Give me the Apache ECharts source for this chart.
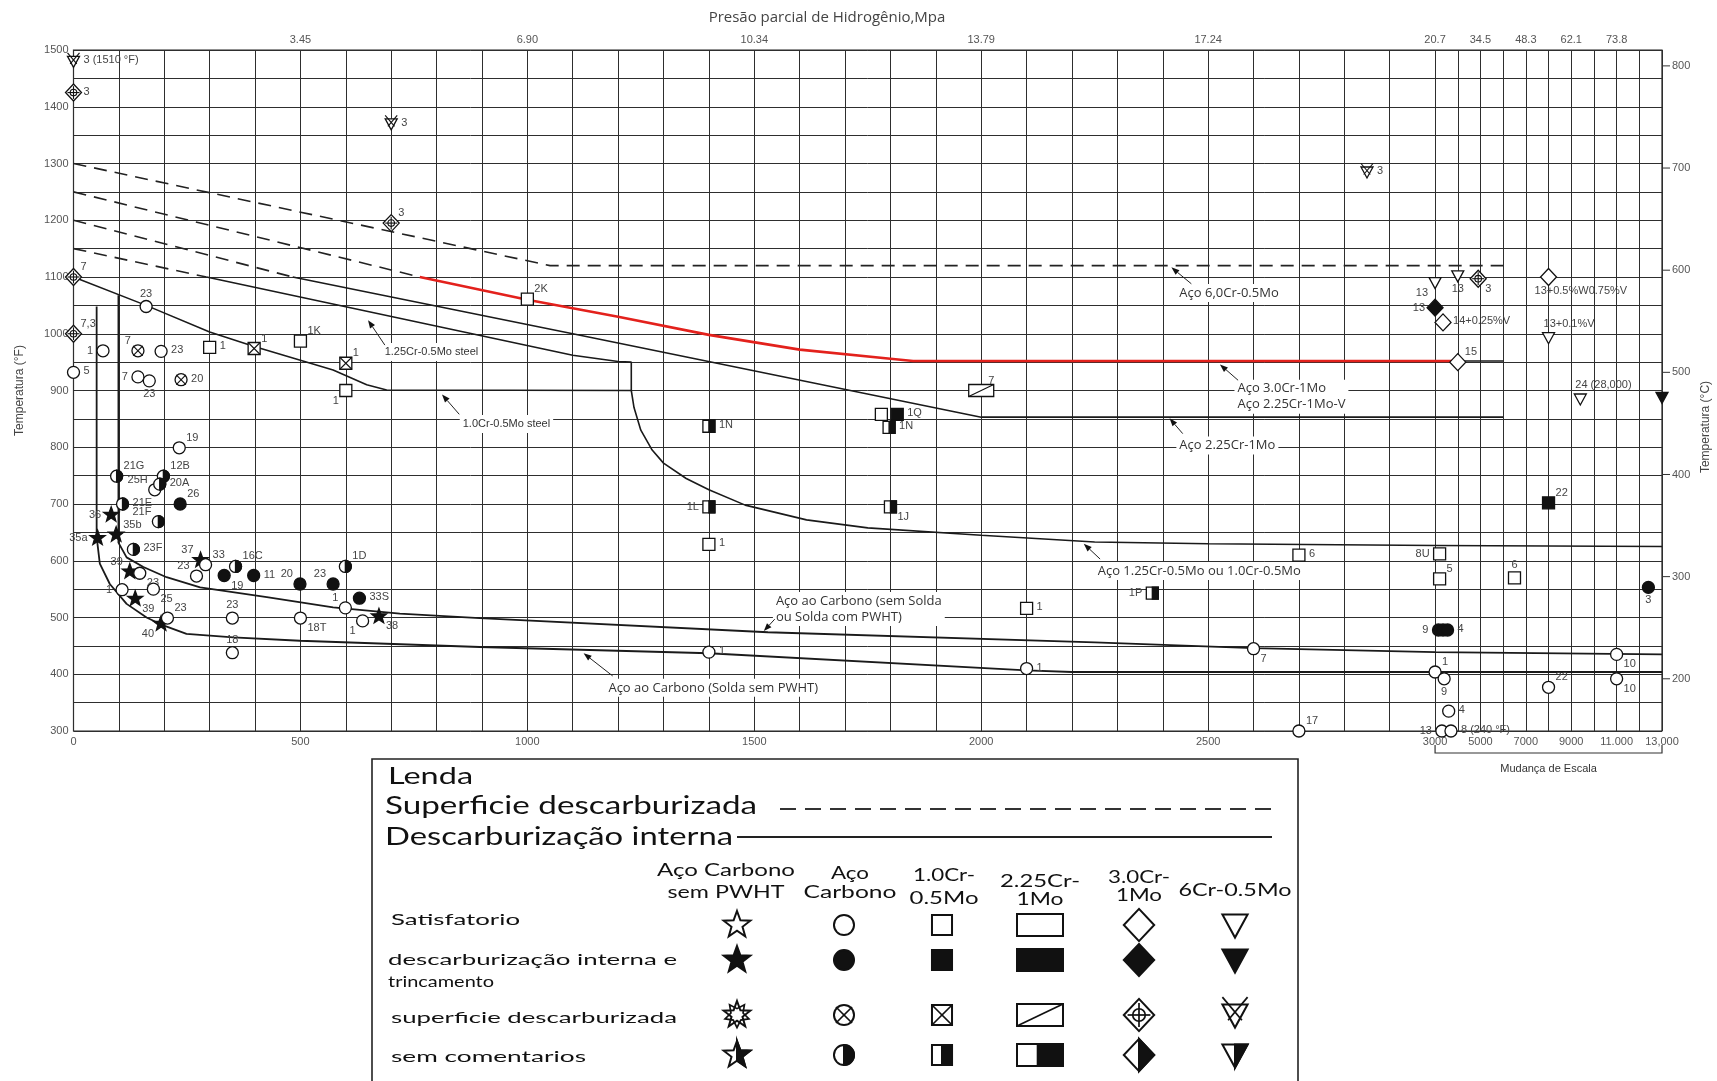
<!DOCTYPE html>
<html lang="pt">
<head>
<meta charset="utf-8">
<title>Curvas de Nelson</title>
<script src="https://cdn.jsdelivr.net/npm/echarts@6.0.0/dist/echarts.min.js"></script>
<style>
html,body{margin:0;padding:0;background:#fff;}
#chart{width:1717px;height:1081px;}
</style>
</head>
<body>
<div id="chart"></div>
<script>
// ---------- Axis ticks ----------
const bottomTickPsi  = [0, 500, 1000, 1500, 2000, 2500, 3000, 5000, 7000, 9000, 11000, 13000];
const bottomTickText = ['0', '500', '1000', '1500', '2000', '2500', '3000', '5000', '7000', '9000', '11.000', '13,000'];
const topTickPsi  = [500, 1000, 1500, 2000, 2500, 3000, 5000, 7000, 9000, 11000];
const topTickText = ['3.45', '6.90', '10.34', '13.79', '17.24', '20.7', '34.5', '48.3', '62.1', '73.8'];
const tempTicksF = [300, 400, 500, 600, 700, 800, 900, 1000, 1100, 1200, 1300, 1400, 1500];
const tempTicksC = [200, 300, 400, 500, 600, 700, 800];

// ---------- Curves: [pressure psia, temperature °F] ----------
const curve6Cr      = [[0, 1300], [1050, 1120], [6000, 1120]];
const dash3Cr       = [[0, 1250], [763, 1100]];
const dash225Cr     = [[0, 1200], [483, 1100]];
const dash125Cr     = [[0, 1150], [293, 1100]];
const curve3Cr      = [[763, 1100], [1000, 1060], [1200, 1030], [1400, 998], [1600, 972], [1800, 956], [1850, 952], [4000, 952]];
const curve3CrTail  = [[4000, 952], [6000, 952]];
const curve225Cr    = [[483, 1100], [1100, 1000], [2000, 853], [6000, 853]];
const curve125Cr    = [[293, 1100], [1100, 962], [1200, 951], [1229, 950], [1229, 900], [1235, 870], [1250, 830], [1275, 795],
                       [1300, 772], [1350, 745], [1400, 725], [1480, 698], [1615, 672], [1750, 658], [2000, 645],
                       [2250, 633], [2500, 630], [3000, 627], [13000, 625]];
const curve10Cr     = [[0, 1100], [160, 1050], [300, 1003], [400, 977], [572, 936], [646, 910], [690, 901], [1229, 900]];
const curveCarbonPwht = [[99, 1068], [99, 632], [117, 606], [154, 589], [205, 571], [279, 553], [426, 536], [572, 518],
                         [719, 507], [895, 499], [1530, 474], [2250, 456], [2600, 446], [3000, 439], [13000, 435]];
const curveCarbonWeld = [[51, 1048], [51, 642], [58, 595], [80, 559], [117, 524], [161, 500], [198, 486], [249, 471],
                         [352, 465], [499, 459], [895, 448], [1400, 437], [2100, 407], [2200, 404], [13000, 404]];

// ---------- Service experience: [psia, °F, condition, reference] ----------
// condition: ok = satisfatorio, crack = descarb. interna e trincamento,
//            surf = superficie descarburizada, none = sem comentarios
const carbonNoPwhtMarks = [
  [83, 681, 'crack', '36'], [94, 646, 'crack', '35b'], [53, 640, 'crack', '35a'], [124, 581, 'crack', '39'],
  [136, 533, 'crack', '39'], [193, 489, 'crack', '40'], [280, 601, 'crack', '37'], [673, 502, 'crack', '38']
];
const carbonNoPwhtSides = ['l', 'tr', 'l', 'tl', 'br', 'bl', 'tl', 'br'];

const carbonMarks = [
  [160, 1048, 'ok', '23'], [0, 932, 'ok', '5'], [65, 970, 'ok', '1'], [193, 969, 'ok', '23'],
  [142, 924, 'ok', '7'], [167, 917, 'ok', '23'], [233, 799, 'ok', '19'], [179, 725, 'ok', '25H'],
  [291, 593, 'ok', '33'], [271, 573, 'ok', '23'], [146, 578, 'ok', '23'], [107, 549, 'ok', '1'],
  [176, 550, 'ok', '25'], [207, 499, 'ok', '23'], [350, 499, 'ok', '23'], [350, 438, 'ok', '18'],
  [500, 499, 'ok', '18T'], [599, 517, 'ok', '1'], [637, 494, 'ok', '1'], [1400, 439, 'ok', '1'],
  [2100, 410, 'ok', '1'], [2600, 445, 'ok', '7'], [2700, 300, 'ok', '17'], [3000, 404, 'ok', '1'],
  [3400, 392, 'ok', '9'], [3600, 335, 'ok', '4'], [3300, 300, 'ok', '13'], [3700, 240, 'ok', '8 (240 °F)'],
  [8000, 377, 'ok', '22'], [11000, 435, 'ok', '10'], [11000, 392, 'ok', '10'],
  [235, 700, 'crack', '26'], [332, 574, 'crack', '19'], [397, 574, 'crack', '11'], [499, 559, 'crack', '20'],
  [572, 559, 'crack', '23'], [630, 534, 'crack', '33S'], [3150, 478, 'crack', '9'], [3350, 478, 'crack', ''],
  [3550, 478, 'crack', '4'], [12400, 553, 'crack', '3'],
  [142, 970, 'surf', '7'], [237, 919, 'surf', '20'],
  [95, 749, 'none', '21G'], [198, 749, 'none', '12B'], [190, 735, 'none', '20A'], [108, 700, 'none', '21E'],
  [187, 669, 'none', '21F'], [132, 620, 'none', '23F'], [357, 590, 'none', '16C'], [599, 590, 'none', '1D']
];
const carbonSides = [
  't', 'r', 'l', 'r', 'l', 'b', 'tr', 'tl', 'tr', 'tl', 'br', 'l', 'br', 'tr', 't', 't', 'br', 'tl', 'bl', 'r',
  'r', 'br', 'tr', 'tr', 'b', 'r', 'l', 'r', 'tr', 'br', 'br',
  'tr', 'br', 'r', 'tl', 'tl', 'r', 'l', '', 'r', 'b',
  'tl', 'r',
  'tr', 'tr', 'r', 'r', 'tl', 'r', 'tr', 'tr'
];

const cr1Marks = [
  [300, 976, 'ok', '1'], [500, 987, 'ok', '1K'], [600, 900, 'ok', '1'], [1000, 1061, 'ok', '2K'],
  [1780, 858, 'ok', ''], [1400, 629, 'ok', '1'], [2100, 516, 'ok', '1'], [2700, 610, 'ok', '6'],
  [3200, 612, 'ok', '8U'], [3200, 568, 'ok', '5'], [6500, 570, 'ok', '6'],
  [1815, 858, 'crack', '1Q'], [8000, 702, 'crack', '22'],
  [398, 974, 'surf', '1'], [600, 948, 'surf', '1'],
  [1400, 837, 'none', '1N'], [1797, 835, 'none', '1N'], [1400, 695, 'none', '1L'], [1800, 695, 'none', '1J'],
  [2377, 543, 'none', '1P']
];
const cr1Sides = ['r', 'tr', 'bl', 'tr', '', 'r', 'r', 'r', 'l', 'tr', 't', 'r', 'tr', 'tr', 'tr', 'r', 'r', 'l', 'br', 'l'];

const cr225Marks = [[2000, 900, 'surf', '7']];
const cr225Sides = ['tr'];

const cr3Marks = [
  [0, 1425, 'surf', '3'], [700, 1195, 'surf', '3'], [0, 1100, 'surf', '7'], [0, 1000, 'surf', '7,3'],
  [4900, 1097, 'surf', '3'], [3000, 1046, 'crack', '13'], [3350, 1020, 'ok', '14+0.25%V'],
  [4000, 950, 'ok', '15'], [8000, 1100, 'ok', '13+0.5%W0.75%V']
];
const cr3Sides = ['r', 'tr', 'tr', 'tr', 'br', 'l', 'r', 'tr', 'bw'];

const cr6Marks = [
  [0, 1510, 'surf', '3 (1510 °F)'], [700, 1370, 'surf', '3'], [2850, 1285, 'surf', '3'],
  [3000, 1090, 'ok', '13'], [4000, 1102, 'ok', '13'], [8000, 993, 'ok', '13+0.1%V'],
  [9400, 885, 'ok', '24 (28,000)'], [28000, 888, 'crack', '']
];
const cr6Sides = ['r', 'r', 'r', 'bl', 'b', 'tw', 'tw', ''];

// ---------- Legend content ----------
const legendCols = [
  {kind: 'star', head: ['Aço Carbono', 'sem PWHT']},
  {kind: 'circle', head: ['Aço', 'Carbono']},
  {kind: 'square', head: ['1.0Cr-', '0.5Mo']},
  {kind: 'rect', head: ['2.25Cr-', '1Mo']},
  {kind: 'diamond', head: ['3.0Cr-', '1Mo']},
  {kind: 'tri', head: ['6Cr-0.5Mo']}
];
const legendRows = [
  {state: 'ok', text: ['Satisfatorio']},
  {state: 'crack', text: ['descarburização interna e', 'trincamento']},
  {state: 'surf', text: ['superficie descarburizada']},
  {state: 'none', text: ['sem comentarios']}
];

// ---------- Scale helpers ----------
const PSI_BREAK = 3000, PSI_MAX = 13000, HIGH_RANGE_FACTOR = 0.05;
const T_MIN = 300, T_MAX = 1500, T_PIN_TOP = 1480;
function toU(psi) {
  const p = Math.min(psi, PSI_MAX);
  return p <= PSI_BREAK ? p : PSI_BREAK + (p - PSI_BREAK) * HIGH_RANGE_FACTOR;
}
const pinT = f => Math.max(T_MIN, Math.min(f, T_PIN_TOP));
const fToC = f => (f - 32) * 5 / 9;
const cToF = c => c * 9 / 5 + 32;
const tickLabel = (ticks, texts) => v => {
  const i = ticks.findIndex(p => Math.abs(toU(p) - v) < 1e-6);
  return i >= 0 ? texts[i] : '';
};

const gridU = [];
for (let p = 0; p <= PSI_BREAK; p += 100) gridU.push(p);
for (let p = PSI_BREAK + 1000; p <= PSI_MAX; p += 1000) gridU.push(toU(p));

// ---------- Glyphs ----------
const INK = '#111';
function starPts(cx, cy, R, r, a0) {
  const pts = [];
  for (let j = 0; j < 10; j++) {
    const a = a0 + j * Math.PI / 5, rad = j % 2 ? r : R;
    pts.push([cx + rad * Math.cos(a), cy + rad * Math.sin(a)]);
  }
  return pts;
}
function glyph(kind, state, cx, cy, k, lw) {
  const body = () => ({fill: state === 'crack' ? INK : '#fff', stroke: INK, lineWidth: lw});
  const ink = () => ({fill: INK, stroke: INK, lineWidth: lw});
  const hollow = () => ({fill: 'none', stroke: INK, lineWidth: lw * 0.85});
  const seg = (x1, y1, x2, y2) => ({type: 'line', shape: {x1, y1, x2, y2}, style: {stroke: INK, lineWidth: lw * 0.85}});
  const els = [];
  if (kind === 'star') {
    const R = 8 * k, r = 3.3 * k;
    const pts = starPts(cx, cy, R, r, -Math.PI / 2);
    els.push({type: 'polygon', shape: {points: pts}, style: body()});
    if (state === 'surf') els.push({type: 'polygon', shape: {points: starPts(cx, cy, R * 0.9, r * 1.1, Math.PI / 2)}, style: hollow()});
    if (state === 'none') els.push({type: 'polygon', shape: {points: pts.slice(0, 6)}, style: ink()});
  } else if (kind === 'circle') {
    const r = 6 * k;
    els.push({type: 'circle', shape: {cx, cy, r}, style: body()});
    if (state === 'surf') { const d = r * 0.8; els.push(seg(cx - d, cy - d, cx + d, cy + d), seg(cx - d, cy + d, cx + d, cy - d)); }
    if (state === 'none') els.push({type: 'sector', shape: {cx, cy, r, r0: 0, startAngle: -Math.PI / 2, endAngle: Math.PI / 2, clockwise: true}, style: ink()});
  } else if (kind === 'square') {
    const s = 6 * k;
    els.push({type: 'rect', shape: {x: cx - s, y: cy - s, width: 2 * s, height: 2 * s}, style: body()});
    if (state === 'surf') els.push(seg(cx - s, cy - s, cx + s, cy + s), seg(cx - s, cy + s, cx + s, cy - s));
    if (state === 'none') els.push({type: 'rect', shape: {x: cx, y: cy - s, width: s, height: 2 * s}, style: ink()});
  } else if (kind === 'rect') {
    const w = 12.5 * k, h = 6 * k;
    els.push({type: 'rect', shape: {x: cx - w, y: cy - h, width: 2 * w, height: 2 * h}, style: body()});
    if (state === 'surf') els.push(seg(cx - w, cy + h, cx + w, cy - h));
    if (state === 'none') els.push({type: 'rect', shape: {x: cx - 0.1 * w, y: cy - h, width: 1.1 * w, height: 2 * h}, style: ink()});
  } else if (kind === 'diamond') {
    const w = 8 * k, h = 8.5 * k;
    els.push({type: 'polygon', shape: {points: [[cx, cy - h], [cx + w, cy], [cx, cy + h], [cx - w, cy]]}, style: body()});
    if (state === 'surf') {
      els.push({type: 'circle', shape: {cx, cy, r: 3.3 * k}, style: hollow()},
               seg(cx - w * 0.75, cy, cx + w * 0.75, cy), seg(cx, cy - h * 0.75, cx, cy + h * 0.75));
    }
    if (state === 'none') els.push({type: 'polygon', shape: {points: [[cx, cy - h], [cx + w, cy], [cx, cy + h]]}, style: ink()});
  } else if (kind === 'tri') {
    const w = 6 * k, top = cy - 5 * k, bot = cy + 6 * k;
    els.push({type: 'polygon', shape: {points: [[cx - w, top], [cx + w, top], [cx, bot]]}, style: body()});
    if (state === 'surf') {
      const t2 = top - 3.5 * k;
      els.push(seg(cx - w, t2, cx + w * 0.55, cy + 2.5 * k), seg(cx + w, t2, cx - w * 0.55, cy + 2.5 * k));
    }
    if (state === 'none') els.push({type: 'polygon', shape: {points: [[cx, top], [cx + w, top], [cx, bot]]}, style: ink()});
  }
  return els;
}

const LABEL_OFFSETS = {
  r: [10, -1, 'left'], l: [-10, 0, 'right'], t: [0, -13, 'center'], b: [0, 13, 'center'],
  tr: [7, -10, 'left'], tl: [-7, -10, 'right'], br: [7, 10, 'left'], bl: [-7, 10, 'right'],
  tw: [-5, -14, 'left'], bw: [-14, 14, 'left']
};
function markLabel(text, side, cx, cy) {
  const o = LABEL_OFFSETS[side] || LABEL_OFFSETS.r;
  return {type: 'text', x: cx + o[0], y: cy + o[1],
          style: {text, fill: '#444', font: '11px "Liberation Sans"', align: o[2], verticalAlign: 'middle'}};
}

// ---------- Flatten observations ----------
const markGroups = [
  {kind: 'star', data: carbonNoPwhtMarks, sides: carbonNoPwhtSides},
  {kind: 'circle', data: carbonMarks, sides: carbonSides},
  {kind: 'square', data: cr1Marks, sides: cr1Sides},
  {kind: 'rect', data: cr225Marks, sides: cr225Sides},
  {kind: 'diamond', data: cr3Marks, sides: cr3Sides},
  {kind: 'tri', data: cr6Marks, sides: cr6Sides}
];
const marks = [];
markGroups.forEach(g => g.data.forEach((d, i) => marks.push({kind: g.kind, psi: d[0], t: d[1], state: d[2], ref: d[3], side: g.sides[i]})));

// ---------- Curve annotations (text anchor, arrow tail, arrow tip in psia/°F) ----------
const lineNotes = [
  {text: '1.25Cr-0.5Mo steel', at: [679, 968], tail: [686, 980], tip: [649, 1024], small: true},
  {text: '1.0Cr-0.5Mo steel', at: [851, 841], tail: [850, 858], tip: [812, 893], small: true},
  {text: 'Aço 6,0Cr-0.5Mo', at: [2430, 1072], tail: [2463, 1088], tip: [2419, 1117]},
  {text: 'Aço 3.0Cr-1Mo\nAço 2.25Cr-1Mo-V', at: [2558, 889], tail: [2566, 918], tip: [2526, 946]},
  {text: 'Aço 2.25Cr-1Mo', at: [2430, 803], tail: [2444, 824], tip: [2415, 851]},
  {text: 'Aço 1.25Cr-0.5Mo ou 1.0Cr-0.5Mo', at: [2250, 582], tail: [2262, 603], tip: [2226, 630]},
  {text: 'Aço ao Carbono (sem Solda\nou Solda com PWHT)', at: [1541, 515], tail: [1545, 497], tip: [1521, 476]},
  {text: 'Aço ao Carbono (Solda sem PWHT)', at: [1172, 376], tail: [1188, 397], tip: [1124, 437]}
];

// ---------- Series ----------
const solid = {color: '#1a1a1a', width: 1.6};
const dashed = {color: '#222', width: 1.6, type: [13, 8]};
function curve(pts, style) {
  return {type: 'line', data: pts.map(p => [toU(p[0]), p[1]]), symbol: 'none', showSymbol: false,
          lineStyle: style, z: 3, silent: true, animation: false};
}

const series = [
  curve(curve6Cr, dashed), curve(dash3Cr, dashed), curve(dash225Cr, dashed), curve(dash125Cr, dashed),
  curve(curve225Cr, solid), curve(curve125Cr, solid), curve(curve10Cr, solid),
  curve(curveCarbonPwht, {color: '#1a1a1a', width: 1.8}), curve(curveCarbonWeld, {color: '#1a1a1a', width: 1.8}),
  curve(curve3CrTail, solid), curve(curve3Cr, {color: '#e3211c', width: 2.6}),
  {
    type: 'custom', coordinateSystem: 'cartesian2d', clip: false, z: 6, silent: true,
    data: lineNotes.map((n, i) => [toU(n.tip[0]), n.tip[1], i]),
    encode: {x: 0, y: 1},
    renderItem: (params, api) => {
      const n = lineNotes[api.value(2)];
      const tip = api.coord([toU(n.tip[0]), n.tip[1]]);
      const tail = api.coord([toU(n.tail[0]), n.tail[1]]);
      const at = api.coord([toU(n.at[0]), n.at[1]]);
      const ang = Math.atan2(tip[1] - tail[1], tip[0] - tail[0]);
      const L = 8, W = 3;
      const bx = tip[0] - L * Math.cos(ang), by = tip[1] - L * Math.sin(ang);
      const head = [[tip[0], tip[1]], [bx - W * Math.sin(ang), by + W * Math.cos(ang)], [bx + W * Math.sin(ang), by - W * Math.cos(ang)]];
      return {type: 'group', children: [
        {type: 'text', x: at[0], y: at[1], style: {
          text: n.text, fill: '#333', align: 'left', verticalAlign: 'middle', lineHeight: 16,
          font: n.small ? '11px "Liberation Sans"' : '13px "Open Sans"', backgroundColor: '#fff', padding: [1, 3]}},
        {type: 'line', shape: {x1: tail[0], y1: tail[1], x2: bx, y2: by}, style: {stroke: '#222', lineWidth: 1}},
        {type: 'polygon', shape: {points: head}, style: {fill: '#111'}}
      ]};
    }
  },
  {
    type: 'custom', coordinateSystem: 'cartesian2d', clip: false, z: 10, silent: true,
    data: marks.map((m, i) => [toU(m.psi), pinT(m.t), i]),
    encode: {x: 0, y: 1},
    renderItem: (params, api) => {
      const m = marks[api.value(2)];
      const c = api.coord([api.value(0), api.value(1)]);
      const children = glyph(m.kind, m.state, c[0], c[1], 1, 1.3);
      if (m.ref) children.push(markLabel(m.ref, m.side, c[0], c[1]));
      return {type: 'group', children};
    }
  },
  {
    // bracket marking the compressed pressure range
    type: 'custom', coordinateSystem: 'cartesian2d', clip: false, z: 4, silent: true,
    data: [[toU(PSI_BREAK), T_MIN, toU(PSI_MAX)]],
    encode: {x: 0, y: 1},
    renderItem: (params, api) => {
      const a = api.coord([api.value(0), api.value(1)]);
      const b = api.coord([api.value(2), api.value(1)]);
      const y = a[1] + 22;
      return {type: 'group', children: [
        {type: 'polyline', shape: {points: [[a[0], y - 8], [a[0], y], [b[0], y], [b[0], y - 8]]}, style: {stroke: '#333', lineWidth: 1.2, fill: 'none'}},
        {type: 'text', x: (a[0] + b[0]) / 2, y: y + 16, style: {text: 'Mudança de Escala', fill: '#333', font: '11px "Liberation Sans"', align: 'center', verticalAlign: 'middle'}}
      ]};
    }
  },
  {
    // outward tick marks of the Celsius scale on the right edge
    type: 'custom', coordinateSystem: 'cartesian2d', clip: false, z: 4, silent: true,
    data: tempTicksC.map(c => [toU(PSI_MAX), cToF(c)]),
    encode: {x: 0, y: 1},
    renderItem: (params, api) => {
      const p = api.coord([api.value(0), api.value(1)]);
      return {type: 'line', shape: {x1: p[0], y1: p[1], x2: p[0] + 8, y2: p[1]}, style: {stroke: '#333', lineWidth: 1}};
    }
  }
];

// ---------- Legend panel ----------
const measureCtx = document.createElement('canvas').getContext('2d');
function fitText(text, x, y, size, width, align) {
  const font = size + 'px Lato';
  measureCtx.font = font;
  const w = measureCtx.measureText(text).width || width;
  return {type: 'text', x, y, scaleX: width / w, style: {text, font, fill: '#111', align, verticalAlign: 'middle'}};
}
const legendColX  = [737, 844, 942, 1040, 1139, 1235];
const legendHeadX = [726, 850, 944, 1040, 1139, 1235];
const legendHeadY = [[871, 893], [874, 893], [876, 899], [882, 900], [878, 896], [891]];
const legendHeadW = [[138, 117], [38, 93], [62, 69], [80, 47], [62, 46], [113]];
const legendRowY  = [925, 960, 1015, 1055];
const legendRowTextY = [[920], [960, 982], [1018], [1057]];
const legendRowTextX = [391, 388, 391, 391];
const legendRowTextW = [[129], [289, 106], [286], [195]];
const legendScale = {star: 1.75, circle: 1.67, square: 1.67, rect: 1.84, diamond: 1.9, tri: 2.1};

const legendEls = [
  {type: 'rect', shape: {x: 372, y: 759, width: 926, height: 340}, style: {fill: '#fff', stroke: '#222', lineWidth: 1.6}},
  fitText('Lenda', 388, 776, 24, 85, 'left'),
  fitText('Superficie descarburizada', 385, 806, 25, 372, 'left'),
  fitText('Descarburização interna', 385, 837, 25, 348, 'left'),
  {type: 'line', shape: {x1: 780, y1: 809, x2: 1272, y2: 809}, style: {stroke: '#333', lineWidth: 2.2, lineDash: [16, 9]}},
  {type: 'line', shape: {x1: 737, y1: 837, x2: 1272, y2: 837}, style: {stroke: '#222', lineWidth: 2.2}}
];
legendCols.forEach((col, ci) => {
  col.head.forEach((h, li) => legendEls.push(fitText(h, legendHeadX[ci], legendHeadY[ci][li], 17, legendHeadW[ci][li], 'center')));
  legendRows.forEach((row, ri) => {
    glyph(col.kind, row.state, legendColX[ci], legendRowY[ri], legendScale[col.kind], 2).forEach(e => legendEls.push(e));
  });
});
legendRows.forEach((row, ri) => {
  row.text.forEach((t, li) => legendEls.push(fitText(t, legendRowTextX[ri], legendRowTextY[ri][li], 16, legendRowTextW[ri][li], 'left')));
});

// ---------- Chart ----------
const chart = echarts.init(document.getElementById('chart'), null, {renderer: 'canvas'});
const axisFont = {color: '#555', fontSize: 11, fontFamily: 'Liberation Sans'};
chart.setOption({
  animation: false,
  backgroundColor: '#fff',
  grid: {left: 73.5, top: 50, width: 1588.5, height: 681, show: true, borderColor: '#222', borderWidth: 1.2,
         containLabel: false, outerBoundsMode: 'none'},
  xAxis: [
    {type: 'value', position: 'bottom', min: 0, max: toU(PSI_MAX),
     axisLine: {show: false}, axisTick: {show: false, customValues: gridU},
     splitLine: {show: true, lineStyle: {color: '#2e2e2e', width: 1}},
     axisLabel: Object.assign({customValues: bottomTickPsi.map(toU), formatter: tickLabel(bottomTickPsi, bottomTickText), margin: 5}, axisFont)},
    {type: 'value', position: 'top', min: 0, max: toU(PSI_MAX),
     axisLine: {show: false}, axisTick: {show: false}, splitLine: {show: false},
     axisLabel: Object.assign({customValues: topTickPsi.map(toU), formatter: tickLabel(topTickPsi, topTickText), margin: 5}, axisFont)}
  ],
  yAxis: [
    {type: 'value', position: 'left', min: T_MIN, max: T_MAX, interval: 50,
     axisLine: {show: false}, axisTick: {show: false},
     splitLine: {show: true, lineStyle: {color: '#2e2e2e', width: 1}},
     axisLabel: Object.assign({customValues: tempTicksF, formatter: v => String(v), margin: 5}, axisFont),
     name: 'Temperatura (°F)', nameLocation: 'middle', nameRotate: 90, nameGap: 48,
     nameTextStyle: {color: '#444', fontSize: 12, fontFamily: 'Liberation Sans'}},
    {type: 'value', position: 'right', min: fToC(T_MIN), max: fToC(T_MAX),
     axisLine: {show: false}, axisTick: {show: false}, splitLine: {show: false},
     axisLabel: Object.assign({customValues: tempTicksC, formatter: v => String(v), margin: 10}, axisFont)}
  ],
  graphic: [
    {type: 'text', x: 827, y: 18, style: {text: 'Presão parcial de Hidrogênio,Mpa', fill: '#444', font: '15px "Open Sans"', align: 'center', verticalAlign: 'middle'}},
    {type: 'text', x: 1706, y: 427, rotation: Math.PI / 2, style: {text: 'Temperatura (°C)', fill: '#444', font: '12px "Liberation Sans"', align: 'center', verticalAlign: 'middle'}},
    {type: 'group', children: legendEls}
  ],
  series
});
</script>
</body>
</html>
